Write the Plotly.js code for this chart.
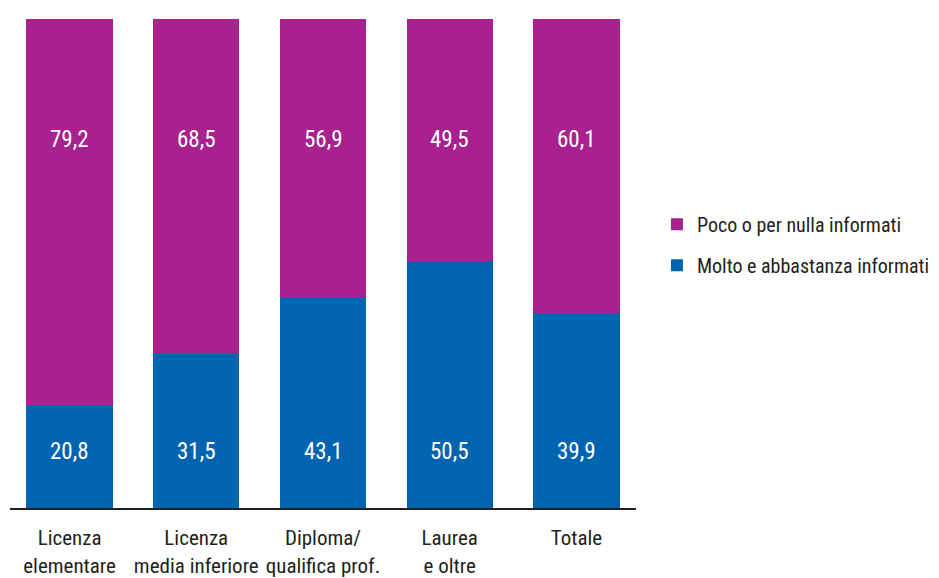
<!DOCTYPE html>
<html>
<head>
<meta charset="utf-8">
<script src="https://cdn.plot.ly/plotly-3.0.1.min.js"></script>
<style>html,body{margin:0;padding:0;background:#fff;}#chart{width:939px;height:578px;}</style>
</head>
<body>
<div id="chart"></div>
<script>
const categories = ["Licenza<br>elementare", "Licenza<br>media inferiore", "Diploma/<br>qualifica prof.", "Laurea<br>e oltre", "Totale"];
const seriesNames = ["Molto e abbastanza informati", "Poco o per nulla informati"];
const molto = [20.8, 31.5, 43.1, 50.5, 39.9];
const poco = [79.2, 68.5, 56.9, 49.5, 60.1];

const FONT = '"Roboto Condensed", "Roboto", sans-serif';
const BLUE = '#0064b1';
const MAGENTA = '#a8218e';
const TEXT = '#231f20';

const fmt = v => v.toFixed(1).replace('.', ',');

const traces = [
  {type: 'bar', name: seriesNames[0], x: categories, y: molto, marker: {color: BLUE}, width: 0.68, legendgroup: 'molto', legendrank: 2, hoverinfo: 'none'},
  {type: 'bar', name: seriesNames[1], x: categories, y: poco, marker: {color: MAGENTA}, width: 0.68, legendgroup: 'poco', legendrank: 1, hoverinfo: 'none'}
];

const annotations = [];
categories.forEach((c, i) => {
  annotations.push({x: c, y: 11.5, xref: 'x', yref: 'y', text: fmt(molto[i]), showarrow: false, font: {family: FONT, size: 23, color: '#ffffff'}});
  annotations.push({x: c, y: 75.3, xref: 'x', yref: 'y', text: fmt(poco[i]), showarrow: false, font: {family: FONT, size: 23, color: '#ffffff'}});
});

const layout = {
  width: 939, height: 578,
  margin: {l: 10, r: 303, t: 19, b: 70, autoexpand: false},
  paper_bgcolor: '#ffffff', plot_bgcolor: '#ffffff',
  barmode: 'stack',
  font: {family: FONT, size: 21, color: TEXT},
  xaxis: {
    type: 'category', range: [-0.47, 4.47], tickangle: 0,
    showline: true, linecolor: TEXT, linewidth: 2,
    ticks: '', showgrid: false, zeroline: false, ticklabelstandoff: 10,
    tickfont: {family: FONT, size: 21, color: TEXT}
  },
  yaxis: {
    range: [0, 100], showline: false, showgrid: false, zeroline: false,
    showticklabels: false, ticks: ''
  },
  showlegend: true,
  legend: {
    x: 1.0335, xanchor: 'left', y: 0.62, yanchor: 'top',
    traceorder: 'grouped', tracegroupgap: 12,
    font: {family: FONT, size: 20, color: TEXT},
    bgcolor: 'rgba(0,0,0,0)'
  },
  annotations: annotations
};

Plotly.newPlot('chart', traces, layout, {displayModeBar: false, staticPlot: true});
</script>
</body>
</html>
